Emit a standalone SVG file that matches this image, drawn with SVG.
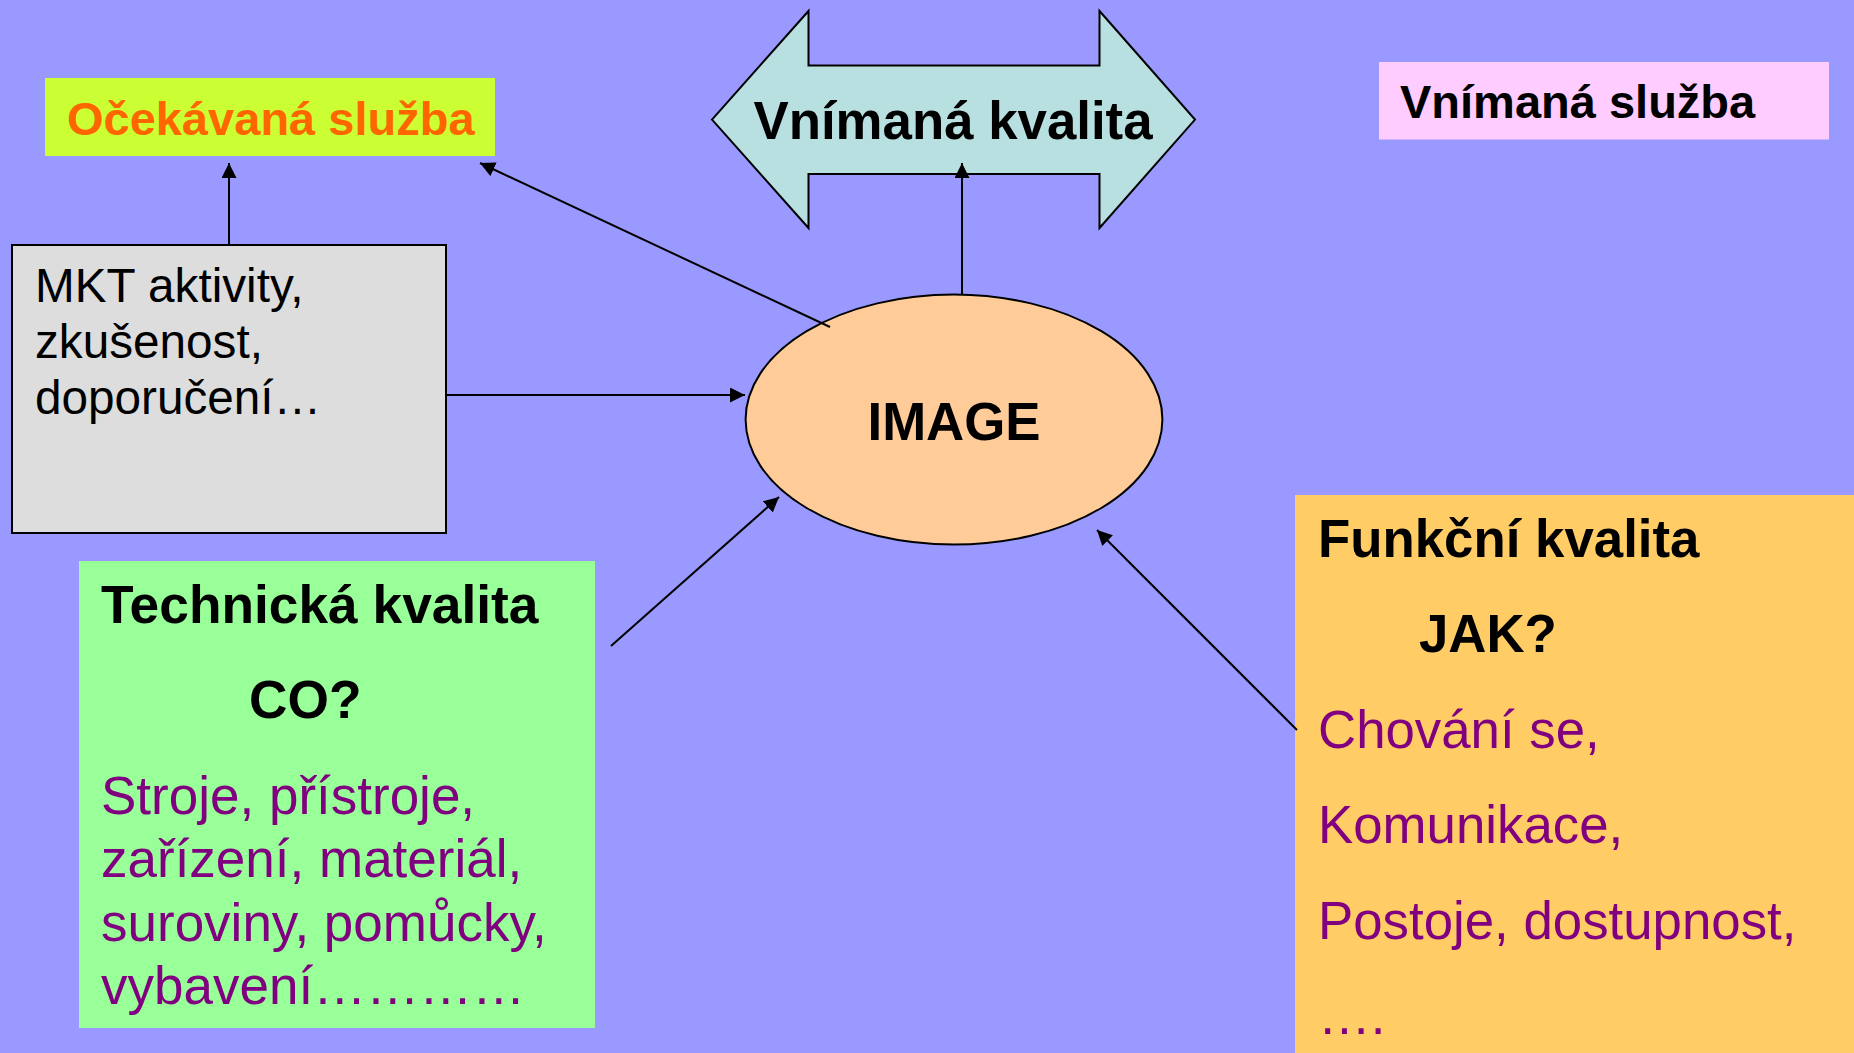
<svg xmlns="http://www.w3.org/2000/svg" width="1854" height="1053" viewBox="0 0 1854 1053">
<style>
text{font-family:"Liberation Sans",Arial,sans-serif;}
.b{font-weight:bold;}
.blk{fill:#000;}
.pur{fill:#800080;}
.con{stroke:#000;stroke-width:2;fill:none;marker-end:url(#ah);}
</style>
<defs>
<marker id="ah" markerUnits="userSpaceOnUse" markerWidth="16" markerHeight="16" refX="15" refY="7.5" orient="auto">
<path d="M0,0 L15,7.5 L0,15 z" fill="#000"/>
</marker>
</defs>
<rect width="1854" height="1053" fill="#9999FF"/>
<g id="ocekavana">
<rect x="45" y="78" width="450" height="78" fill="#CCFF33"/>
<text x="67" y="135" font-size="47" class="b" fill="#FF6600">Očekávaná služba</text>
</g>
<g id="mkt">
<rect x="12" y="245" width="434" height="288" fill="#DDDDDD" stroke="#000" stroke-width="2"/>
<text font-size="47.7" class="blk"><tspan x="35" y="302">MKT aktivity,</tspan><tspan x="35" y="358">zkušenost,</tspan><tspan x="35" y="414">doporučení…</tspan></text>
</g>
<g id="vnimana-kvalita">
<path d="M712,119.6 L808.5,11 L808.5,65.5 L1099.5,65.5 L1099.5,11 L1195,119.6 L1099.5,228 L1099.5,174 L808.5,174 L808.5,228 Z" fill="#B8E0E0" stroke="#000" stroke-width="2" stroke-linejoin="miter"/>
<text x="953" y="139" font-size="52.8" class="b blk" text-anchor="middle">Vnímaná kvalita</text>
</g>
<g id="vnimana-sluzba">
<rect x="1379" y="62" width="450" height="77.5" fill="#FFCCFF"/>
<text x="1400" y="118" font-size="47" class="b blk">Vnímaná služba</text>
</g>
<g id="image">
<ellipse cx="954" cy="419.6" rx="208.4" ry="125" fill="#FFCC99" stroke="#000" stroke-width="2"/>
<text x="954" y="440" font-size="52.8" class="b blk" text-anchor="middle">IMAGE</text>
</g>
<g id="technicka">
<rect x="79" y="561" width="516" height="467" fill="#99FF99"/>
<text x="101" y="623" font-size="53.3" class="b blk">Technická kvalita</text>
<text x="249" y="718" font-size="53.3" class="b blk">CO?</text>
<text font-size="53" class="pur"><tspan x="101" y="814">Stroje, přístroje,</tspan><tspan x="101" y="877">zařízení, materiál,</tspan><tspan x="101" y="941">suroviny, pomůcky,</tspan><tspan x="101" y="1004">vybavení…………</tspan></text>
</g>
<g id="funkcni">
<rect x="1295" y="495" width="559" height="558" fill="#FFCC66"/>
<text x="1318" y="557" font-size="52.8" class="b blk">Funkční kvalita</text>
<text x="1419" y="652" font-size="52.8" class="b blk">JAK?</text>
<text font-size="52.8" class="pur"><tspan x="1318" y="747.5">Chování se,</tspan><tspan x="1318" y="843">Komunikace,</tspan><tspan x="1318" y="939">Postoje, dostupnost,</tspan><tspan x="1318" y="1034">….</tspan></text>
</g>
<g id="connectors">
<line class="con" x1="229" y1="245" x2="229" y2="163"/>
<line class="con" x1="830" y1="327" x2="480" y2="163"/>
<line class="con" x1="962" y1="294.6" x2="962" y2="163"/>
<line class="con" x1="446" y1="395" x2="745" y2="395"/>
<line class="con" x1="611" y1="646" x2="779" y2="497"/>
<line class="con" x1="1297" y1="730" x2="1097" y2="530"/>
</g>
</svg>
